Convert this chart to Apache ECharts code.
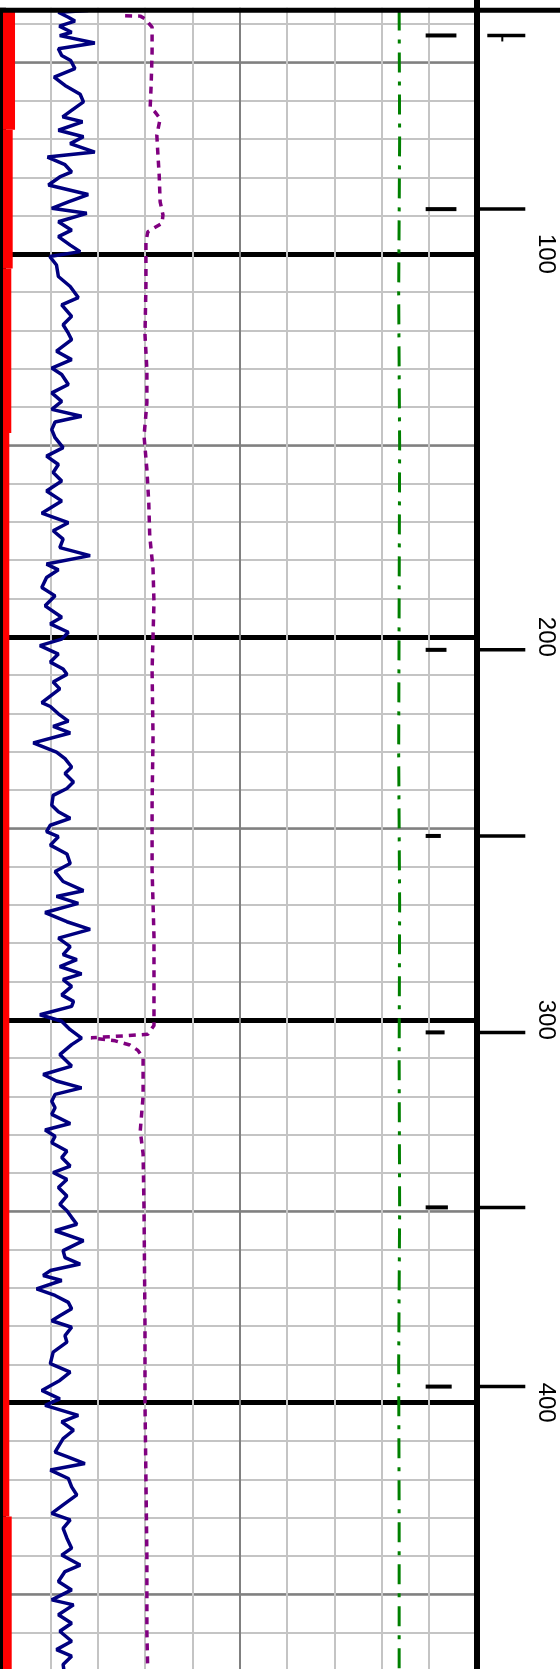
<!DOCTYPE html>
<html>
<head>
<meta charset="utf-8">
<script src="https://cdn.jsdelivr.net/npm/echarts@6/dist/echarts.min.js"></script>
<style>
  html, body { margin: 0; padding: 0; background: #fff; overflow: hidden; width: 560px; height: 1669px; }
  /* The track starts at depth 0 above the visible window; only 36–469 shows */
  #chart { position: absolute; left: 0; top: -132px; width: 560px; height: 1844px; }
</style>
</head>
<body>
<div id="chart"></div>
<script>
// Depth window of the log track (depth grows downward)
const topDepth = 36.36;
const axisMinDepth = 0;
const axisMaxDepth = 480;
const depthLabelValues = [100, 200, 300, 400];

// Red flag fill: [value, from depth, to depth]
const flagFrom = [36.36, 67.6, 103.8, 146.8, 429.7];
const flagTo = [67.6, 103.8, 146.8, 429.7, 480];
const flagValues = [2.54, 2.05, 1.75, 1.33, 1.84];

// Gamma ray style curve (navy)
const gammaDepths = [
  36.4, 36.9, 38.2, 39.2, 40.5, 42.1, 43.0, 44.9, 46.4, 48.2, 49.5, 51.6, 53.8, 56.0, 58.3, 60.3,
  62.5, 64.2, 65.5, 67.7, 69.4, 71.2, 73.4, 74.7, 76.7, 78.6, 79.9, 82.0, 84.5, 86.4, 88.1, 89.4,
  91.6, 93.8, 95.5, 97.7, 99.4, 100.7, 102.9, 105.9, 108.5, 111.4, 113.3, 116.3, 118.5, 120.7,
  122.4, 125.4, 127.6, 129.8, 131.5, 134.1, 136.3, 138.5, 140.6, 142.4, 143.9, 145.9, 148.0, 150.6,
  152.8, 155.0, 157.1, 159.3, 161.9, 164.5, 167.7, 170.2, 172.3, 174.5, 176.7, 178.8, 181.0, 182.5,
  184.5, 187.1, 189.3, 191.9, 194.9, 196.6, 198.8, 200.6, 202.3, 204.5, 206.6, 208.4,
  209.8, 211.8, 213.6, 217.2, 218.2, 220.1, 222.0, 223.4, 225.1, 227.7, 230.1, 231.8, 234.0, 235.7,
  237.9, 239.6, 241.4, 244.0, 245.7, 247.4, 249.2, 250.9, 252.2, 254.4, 256.7, 259.2, 261.3, 263.9,
  266.3, 267.8, 269.6, 272.0, 274.4, 276.4, 278.7, 280.9, 283.0, 284.3, 286.1, 288.0, 289.5, 291.3,
  293.5, 295.2,
  296.5, 298.7, 300.4, 302.6, 304.8, 306.5, 309.1, 312.1, 314.3, 316.0, 317.8, 319.5, 321.3, 323.0,
  324.7, 327.1, 328.8, 330.4, 332.1, 334.3, 336.0, 338.2, 339.9, 341.7, 343.8, 346.0, 348.2, 349.9,
  351.6, 353.4, 355.1, 357.7, 360.3, 362.1, 363.8, 365.5, 366.8, 368.1, 370.3, 372.0, 373.8, 375.5,
  377.3, 378.6, 380.3, 382.5,
  384.2, 386.8, 389.8, 392.0, 394.2, 396.8, 399.0, 400.7, 403.3, 405.0, 407.2, 409.4, 412.9, 414.2,
  415.9, 417.6, 419.8, 422.0, 424.1, 426.7, 428.9, 430.6, 432.8, 435.4, 438.0, 439.8, 442.4, 444.1,
  446.7, 448.9, 451.5, 452.8, 455.4, 457.6, 459.7, 462.3, 464.5, 466.2, 468.4, 471.0
];
const gammaValues = [
  18.0, 11.7, 13.8, 15.2, 11.9, 14.5, 12.0, 19.4, 11.7, 12.4, 14.3, 15.2, 10.8, 13.1, 16.3, 17.0,
  14.5, 12.6, 16.8, 11.7, 17.0, 14.2, 19.4, 9.4, 13.1, 14.5, 12.0, 9.6, 18.0, 13.8, 10.3, 17.7,
  11.7, 14.5, 11.7, 14.2, 16.3, 9.9, 11.3, 11.7, 14.2, 15.9, 12.4, 14.5, 12.7, 13.8,
  14.5, 11.3, 14.5, 10.3, 12.4, 13.8, 10.3, 12.4, 10.3, 16.6, 11.0, 10.3, 11.0, 12.7,
  9.2, 11.7, 10.6, 12.4, 9.2, 12.4, 8.2, 13.8, 10.6, 12.7, 12.0, 18.4, 9.2, 11.7,
  9.2, 8.2, 11.0, 8.9, 12.4, 10.0, 13.8, 12.4, 7.8, 11.7, 10.0, 12.7,
  13.5, 10.6, 12.0, 8.2, 10.0, 11.7, 13.8, 10.6, 14.2, 6.4, 11.3, 13.1, 14.5, 13.1,
  14.9, 13.5, 10.6, 10.3, 11.7, 14.2, 10.0, 9.2, 11.7, 10.0, 13.5, 14.2, 11.0, 12.7,
  17.0, 11.3, 15.9, 8.9, 13.5, 18.4, 11.7, 14.2, 12.7, 15.6, 12.0, 16.6, 12.7, 14.5,
  12.4, 14.9,
  14.5, 7.8, 12.4, 14.2, 16.6, 14.5, 12.0, 14.5, 8.5, 11.3, 16.6, 11.0, 10.3, 11.0,
  10.3, 14.2, 8.9, 11.0, 10.3, 13.5, 12.4, 14.2, 10.6, 13.5, 11.7, 13.5, 12.0, 13.5,
  14.5, 15.6, 11.0, 17.0, 12.7, 13.1, 16.3, 10.0, 8.5, 12.4, 7.1, 11.0, 13.8, 14.5,
  12.0, 10.3, 14.5, 13.1,
  13.5, 10.6, 10.0, 14.2, 12.0, 8.2, 12.0, 8.9, 15.9, 12.4, 14.9, 12.7, 11.0, 13.8,
  17.3, 10.0, 13.8, 14.5, 15.6, 12.7, 10.3, 14.2, 12.7, 13.5, 14.5, 12.4, 16.3, 13.1,
  11.7, 14.5, 10.3, 14.9, 11.7, 14.5, 12.0, 14.5, 11.3, 14.5, 12.7, 13.0
];

// Resistivity style curve (purple, dotted)
const resDepths = [
  37.8, 37.9, 38.6, 40.8, 47.3, 56.0, 61.6, 62.9, 64.7, 69.0, 73.4, 79.4, 86.4, 89.8, 92.0, 94.2,
  96.8, 108.1, 121.1, 130.2, 138.9, 147.6, 156.3, 165.0, 173.6, 182.3, 191.0, 199.7, 208.8, 226.2,
  243.5, 260.9, 278.3, 295.6, 301.5, 303.8, 304.2, 304.7, 305.5, 306.6, 308.0, 310.0, 320.0, 329.0,
  335.0, 350.0, 380.0, 400.0, 420.0, 440.0, 460.0, 471.0
];
const resValues = [
  25.8, 29.0, 30.0, 31.5, 31.5, 31.3, 31.1, 32.1, 33.2, 32.5, 32.7, 33.0, 33.2, 33.8, 33.6, 30.6,
  30.2, 30.2, 30.0, 30.4, 30.4, 29.8, 30.4, 30.8, 31.0, 31.7, 31.9, 31.7, 31.5, 31.7,
  31.5, 31.5, 31.9, 31.9, 31.9, 30.6, 25.8, 18.6, 23.7, 26.8, 28.5, 29.6, 29.6, 29.0,
  29.6, 29.8, 30.0, 30.0, 30.2, 30.4, 30.4, 30.6
];

// Sonic style curve (green, dash-dot)
const sonicDepths = [36.4, 70, 110, 150, 190, 230, 270, 310, 350, 390, 430, 471];
const sonicValues = [83.7, 83.8, 83.6, 83.8, 83.7, 83.6, 83.8, 83.7, 83.8, 83.6, 83.7, 83.7];

// Markers: depth, inner bar length and kind
const markerDepths = [42.95, 88.3, 203.4, 252.0, 303.3, 349.0, 395.8];
const markerLengths = [6.5, 6.5, 4.4, 3.2, 4.0, 4.7, 5.5];
const markerKinds = ['tentative', 'pick', 'pick', 'pick', 'pick', 'pick', 'pick'];
const markerBase = 89.3;

const pairs = (vals, depths) => vals.map((v, i) => [v, depths[i]]);

const chart = echarts.init(document.getElementById('chart'), null, { renderer: 'canvas' });

const lightGrid = '#c4c4c4';
const midGrid = '#808080';

const hiddenAxisBits = { axisLine: { show: false }, axisTick: { show: false }, axisLabel: { show: false } };

const option = {
  animation: false,
  backgroundColor: '#ffffff',
  grid: { left: 3, top: 0.4, width: 473.3, height: 1842.7, containLabel: false },
  xAxis: [
    Object.assign({ type: 'value', min: 0, max: 100, interval: 10, position: 'top',
      splitLine: { show: true, lineStyle: { color: lightGrid, width: 2 } } }, hiddenAxisBits),
    Object.assign({ type: 'value', min: 0, max: 100, interval: 50, position: 'top',
      splitLine: { show: true, lineStyle: { color: midGrid, width: 2 } } }, hiddenAxisBits)
  ],
  yAxis: [
    { type: 'value', inverse: true, min: axisMinDepth, max: axisMaxDepth, interval: 10, position: 'left',
      axisLine: { show: true, onZero: false, lineStyle: { color: '#000', width: 6 } },
      axisTick: { show: false }, axisLabel: { show: false },
      splitLine: { show: true, lineStyle: { color: lightGrid, width: 2 } } },
    Object.assign({ type: 'value', inverse: true, min: axisMinDepth, max: axisMaxDepth, interval: 50, position: 'left',
      splitLine: { show: true, lineStyle: { color: midGrid, width: 2.5 } } }, hiddenAxisBits),
    { type: 'value', inverse: true, min: axisMinDepth, max: axisMaxDepth, interval: 100, position: 'right',
      axisLine: { show: true, onZero: false, lineStyle: { color: '#000', width: 6 } },
      axisTick: { show: false },
      axisLabel: {
        show: true, rotate: -90, margin: 57, color: '#000', fontSize: 24,
        fontFamily: 'Liberation Sans',
        formatter: v => depthLabelValues.includes(v) ? String(v) : ''
      },
      splitLine: { show: true, lineStyle: { color: '#000', width: 5 } } }
  ],
  series: [
    {
      name: 'flag', type: 'custom', xAxisIndex: 0, yAxisIndex: 0,
      data: flagValues.map((v, i) => [v, flagFrom[i], flagTo[i]]),
      encode: { x: 0, y: [1, 2] },
      renderItem: (params, api) => {
        const a = api.coord([0, api.value(1)]);
        const b = api.coord([api.value(0), api.value(2)]);
        return { type: 'rect', shape: { x: a[0], y: a[1], width: b[0] - a[0], height: b[1] - a[1] },
          style: { fill: '#ff0000' } };
      },
      z: 3
    },
    {
      name: 'sonic', type: 'line', xAxisIndex: 0, yAxisIndex: 0, showSymbol: false,
      data: pairs(sonicValues, sonicDepths),
      lineStyle: { color: '#008000', width: 3, type: [20, 9, 4, 9] }
    },
    {
      name: 'resistivity', type: 'line', xAxisIndex: 0, yAxisIndex: 0, showSymbol: false,
      data: pairs(resValues, resDepths),
      lineStyle: { color: '#800080', width: 3.5, type: [7, 6] }
    },
    {
      name: 'gamma', type: 'line', xAxisIndex: 0, yAxisIndex: 0, showSymbol: false,
      data: pairs(gammaValues, gammaDepths),
      lineStyle: { color: '#000080', width: 3.5 }
    },
    {
      name: 'markers', type: 'custom', xAxisIndex: 0, yAxisIndex: 0, clip: false,
      data: markerLengths.map((len, i) => [len, markerDepths[i]]),
      encode: { x: 0, y: 1 },
      renderItem: (params, api) => {
        const d = api.value(1);
        const p = api.coord([markerBase, d]);
        const q = api.coord([markerBase + api.value(0), d]);
        const edge = api.coord([100, d]);
        const tentative = markerKinds[params.dataIndex] === 'tentative';
        const outerStart = edge[0] + (tentative ? 11 : 3);
        const children = [
          { type: 'line', shape: { x1: p[0], y1: p[1], x2: q[0], y2: q[1] },
            style: { stroke: '#000', lineWidth: 4 } },
          { type: 'line', shape: { x1: outerStart, y1: edge[1], x2: edge[0] + 49, y2: edge[1] },
            style: { stroke: '#000', lineWidth: 3.5 } }
        ];
        if (tentative) {
          children.push({ type: 'line', shape: { x1: outerStart + 15, y1: edge[1], x2: outerStart + 15, y2: edge[1] + 6 },
            style: { stroke: '#000', lineWidth: 2 } });
        }
        return { type: 'group', children };
      },
      z: 4
    }
  ]
};

chart.setOption(option);

// Frame top: blank strip above the first depth and the heavy top rule
const yTop = chart.convertToPixel({ yAxisIndex: 0 }, topDepth);
chart.setOption({
  graphic: [
    { type: 'rect', z: 100, shape: { x: 0, y: 0, width: 473, height: yTop - 2.5 }, style: { fill: '#fff' } },
    { type: 'line', z: 101, shape: { x1: 0, y1: yTop, x2: 560, y2: yTop }, style: { stroke: '#000', lineWidth: 5 } }
  ]
});
</script>
</body>
</html>
